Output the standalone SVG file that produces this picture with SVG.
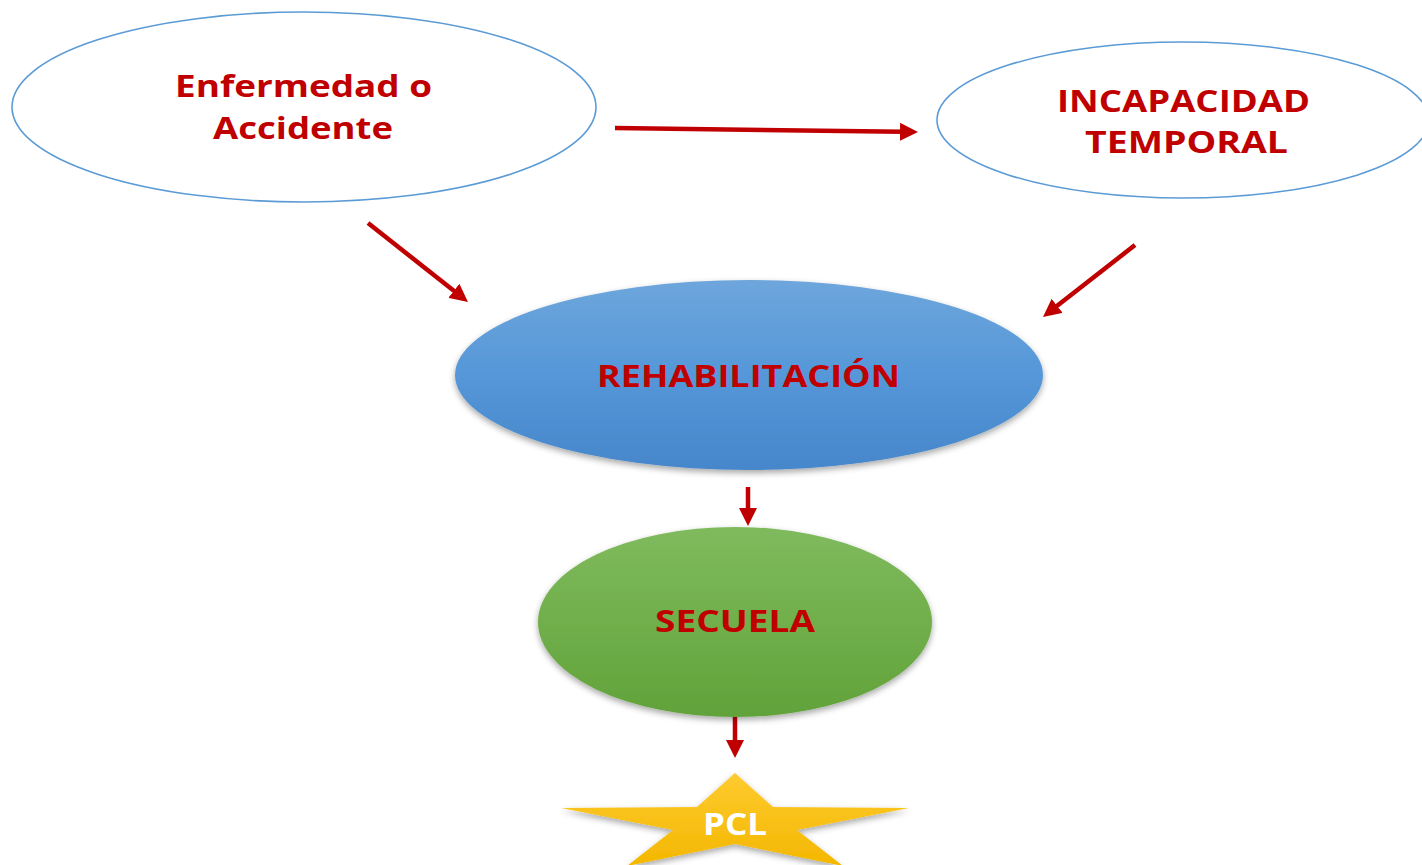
<svg xmlns="http://www.w3.org/2000/svg" width="1422" height="865" viewBox="0 0 1422 865">
<style>
.lbl{font-family:"Open Sans","Liberation Sans",sans-serif;font-weight:700;font-size:31px;fill:#C00000;text-anchor:middle}
.wt{fill:#FFFFFF}
.outline{fill:#FFFFFF;stroke:#5B9BD5;stroke-width:1.6}
.conn{stroke:#C00000;stroke-width:4.5;fill:none;marker-end:url(#ah)}
</style>
<defs>
<marker id="ah" markerUnits="userSpaceOnUse" markerWidth="20" markerHeight="18" refX="2" refY="9" orient="auto">
<path d="M0,0 L18,9 L0,18 Z" fill="#C00000"/>
</marker>
<linearGradient id="gBlue" x1="0" y1="0" x2="0" y2="1">
<stop offset="0" stop-color="#6EA6DC"/>
<stop offset="0.5" stop-color="#5597D8"/>
<stop offset="1" stop-color="#4686CA"/>
</linearGradient>
<linearGradient id="gGreen" x1="0" y1="0" x2="0" y2="1">
<stop offset="0" stop-color="#80BA5E"/>
<stop offset="0.5" stop-color="#70AF4B"/>
<stop offset="1" stop-color="#62A23A"/>
</linearGradient>
<linearGradient id="gGold" x1="0" y1="0" x2="0" y2="1">
<stop offset="0" stop-color="#FFCB30"/>
<stop offset="1" stop-color="#F3B700"/>
</linearGradient>
<filter id="sh" x="-10%" y="-10%" width="120%" height="130%">
<feDropShadow dx="0" dy="3" stdDeviation="3" flood-color="#000" flood-opacity="0.35"/>
</filter>
</defs>
<rect width="1422" height="865" fill="#FFFFFF"/>
<g id="connectors">
<line class="conn" x1="615" y1="128" x2="902" y2="131.8"/>
<line class="conn" x1="368" y1="223" x2="455.4" y2="292.1"/>
<line class="conn" x1="1135" y1="245" x2="1055.6" y2="307.1"/>
<line class="conn" x1="748" y1="487" x2="748" y2="510"/>
<line class="conn" x1="735" y1="717" x2="735" y2="742"/>
</g>
<g id="enfermedad">
<ellipse class="outline" cx="304" cy="107" rx="292" ry="95"/>
<text class="lbl" x="303.5" y="97" textLength="257" lengthAdjust="spacingAndGlyphs">Enfermedad o</text>
<text class="lbl" x="303" y="139" textLength="180" lengthAdjust="spacingAndGlyphs">Accidente</text>
</g>
<g id="incapacidad">
<ellipse class="outline" cx="1183" cy="120" rx="246" ry="78"/>
<text class="lbl" x="1183.5" y="112" textLength="253" lengthAdjust="spacingAndGlyphs">INCAPACIDAD</text>
<text class="lbl" x="1186.5" y="153" textLength="203" lengthAdjust="spacingAndGlyphs">TEMPORAL</text>
</g>
<g id="rehabilitacion">
<ellipse cx="749" cy="375" rx="294" ry="95" fill="url(#gBlue)" filter="url(#sh)"/>
<text class="lbl" x="748.5" y="387" textLength="303" lengthAdjust="spacingAndGlyphs">REHABILITACIÓN</text>
</g>
<g id="secuela">
<ellipse cx="735" cy="622" rx="197" ry="95" fill="url(#gGreen)" filter="url(#sh)"/>
<text class="lbl" x="735" y="632" textLength="160" lengthAdjust="spacingAndGlyphs">SECUELA</text>
</g>
<g id="pcl">
<polygon points="735,773 773,807 909,808 797,830 843,866 735,844 627,866 673,830 561,808 697,807" fill="url(#gGold)" filter="url(#sh)"/>
<text class="lbl wt" x="735" y="835" textLength="64" lengthAdjust="spacingAndGlyphs">PCL</text>
</g>
</svg>
